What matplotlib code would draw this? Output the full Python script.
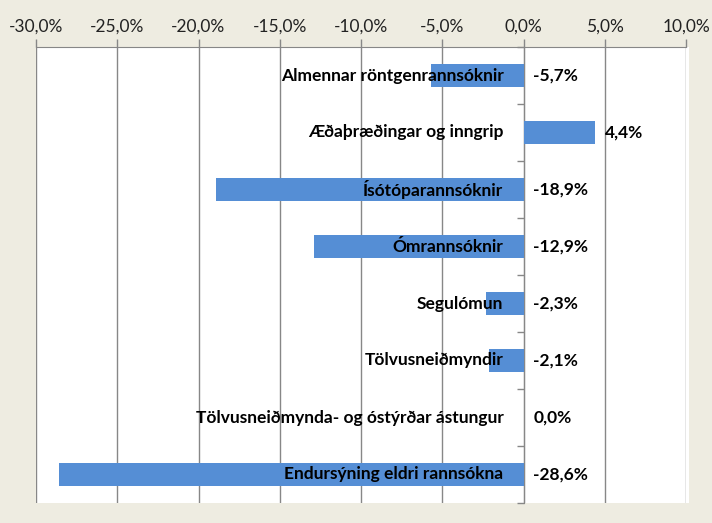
import matplotlib
matplotlib.use("Agg")
import matplotlib.pyplot as plt
from matplotlib.ticker import FuncFormatter, MultipleLocator
from matplotlib.patches import Rectangle

categories = [
    "Almennar röntgenrannsóknir",
    "Æðaþræðingar og inngrip",
    "Ísótóparannsóknir",
    "Ómrannsóknir",
    "Segulómun",
    "Tölvusneiðmyndir",
    "Tölvusneiðmynda- og óstýrðar ástungur",
    "Endursýning eldri rannsókna",
]
changes = [-5.7, 4.4, -18.9, -12.9, -2.3, -2.1, 0.0, -28.6]

bg = "#EEECE1"
bar_color = "#558ED5"
grid_color = "#878787"
font = ["Lato", "DejaVu Sans"]

fig = plt.figure(figsize=(7.12, 5.23), dpi=100, facecolor=bg)
# white plot panel, slightly wider than the axes on the right
fig.patches.append(Rectangle((36 / 712, 1 - 503 / 523), 653 / 712, 456 / 523,
                             transform=fig.transFigure, facecolor="white",
                             edgecolor="none", zorder=-1))
ax = fig.add_axes([36 / 712, 1 - 503 / 523, 650 / 712, 456 / 523])
ax.set_facecolor("white")

n = len(categories)
ypos = list(range(n))
ax.barh(ypos, changes, height=0.42, color=bar_color, zorder=3)

ax.set_xlim(-30, 10)
ax.set_ylim(n - 0.5, -0.5)

ax.xaxis.set_major_locator(MultipleLocator(5))
ax.xaxis.set_major_formatter(FuncFormatter(lambda v, p: f"{v:.1f}%".replace(".", ",")))
ax.xaxis.tick_top()
ax.tick_params(axis="x", direction="out", length=6, width=1, color=grid_color,
               labelsize=12.5, labelcolor="#222222", pad=3)
for lbl in ax.get_xticklabels():
    lbl.set_family(font)
ax.grid(axis="x", color=grid_color, linewidth=1, zorder=0)

# category axis sits at zero with small outward ticks between categories
ax.set_yticks([i + 0.5 for i in range(-1, n)])
ax.set_yticklabels([])
ax.spines["left"].set_position(("data", 0))
ax.spines["left"].set_color(grid_color)
ax.tick_params(axis="y", direction="out", length=5, width=1, color=grid_color)

for s in ["right", "bottom"]:
    ax.spines[s].set_visible(False)
ax.spines["top"].set_color(grid_color)

for y, name, val in zip(ypos, categories, changes):
    ax.annotate(name, xy=(0, y), xytext=(-20, 0), textcoords="offset pixels",
                ha="right", va="center", fontsize=12.5, fontweight="bold",
                family=font, color="black", zorder=4)
    ax.annotate(f"{val:.1f}%".replace(".", ","), xy=(max(val, 0), y), xytext=(10, 0),
                textcoords="offset pixels", ha="left", va="center", fontsize=12.5,
                fontweight="bold", family=font, color="black", zorder=4)

fig.savefig("out.png", dpi=100, facecolor=bg)
